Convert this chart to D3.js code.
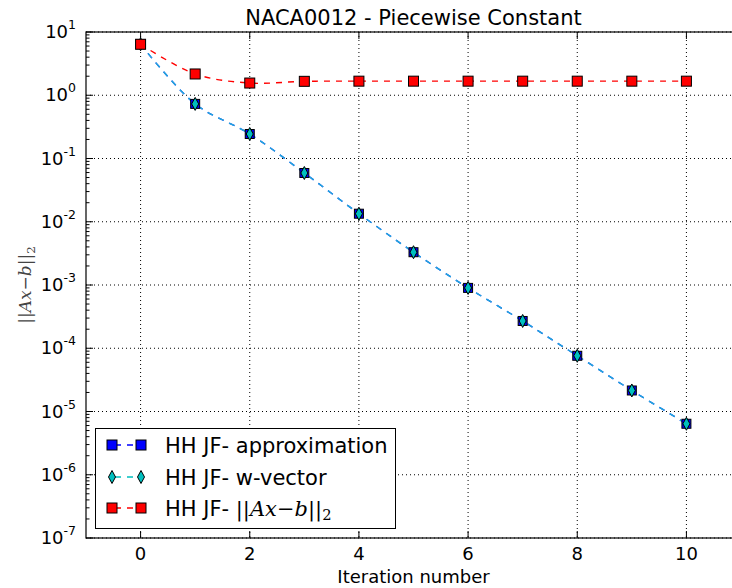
<!DOCTYPE html>
<html>
<head>
<meta charset="utf-8">
<script src="https://cdn.jsdelivr.net/npm/d3@7"></script>
<style>
  body { margin: 0; background: #fff; }
  svg { display: block; font-family: "DejaVu Sans", sans-serif; }
</style>
</head>
<body>
<svg id="chart" width="732" height="588"></svg>
<script>
// --- data ---
const iterations = [0, 1, 2, 3, 4, 5, 6, 7, 8, 9, 10];
const approxVals = [6.4, 0.73, 0.244, 0.059, 0.0134, 0.0033, 0.0009, 0.00027, 7.6e-5, 2.15e-5, 6.4e-6];
const wvecVals   = [6.4, 0.73, 0.244, 0.059, 0.0134, 0.0033, 0.0009, 0.00027, 7.6e-5, 2.15e-5, 6.4e-6];
const residVals  = [6.4, 2.17, 1.56, 1.66, 1.67, 1.67, 1.67, 1.67, 1.67, 1.67, 1.67];
const xTicks = [0, 2, 4, 6, 8, 10];
const yExps  = [1, 0, -1, -2, -3, -4, -5, -6, -7];
const legendLabels = ['HH JF- approximation', 'HH JF- w-vector', 'HH JF- '];

// --- layout ---
const pLeft = 86, pTop = 32, pRight = 741, pBottom = 538;
const svg = d3.select('#chart');

const x = d3.scaleLinear().domain([-1, 11]).range([pLeft, pRight]);
const y = d3.scaleLog().domain([1e-7, 1e1]).range([pBottom, pTop]);

// grid
const grid = svg.append('g').attr('stroke', '#000').attr('stroke-width', 1)
  .attr('stroke-dasharray', '1,3');
xTicks.forEach(t => grid.append('line')
  .attr('x1', x(t)).attr('x2', x(t)).attr('y1', pTop).attr('y2', pBottom));
yExps.forEach(e => grid.append('line')
  .attr('x1', pLeft).attr('x2', pRight).attr('y1', y(Math.pow(10, e))).attr('y2', y(Math.pow(10, e))));

// frame
svg.append('rect').attr('x', pLeft).attr('y', pTop)
  .attr('width', pRight - pLeft).attr('height', pBottom - pTop)
  .attr('fill', 'none').attr('stroke', '#000').attr('stroke-width', 1.2);

// ticks (inside, all sides, classic style)
const tk = svg.append('g').attr('stroke', '#000').attr('stroke-width', 1);
xTicks.forEach(t => {
  tk.append('line').attr('x1', x(t)).attr('x2', x(t)).attr('y1', pBottom).attr('y2', pBottom - 7);
  tk.append('line').attr('x1', x(t)).attr('x2', x(t)).attr('y1', pTop).attr('y2', pTop + 7);
});
yExps.forEach(e => {
  const v = Math.pow(10, e);
  tk.append('line').attr('x1', pLeft).attr('x2', pLeft + 7).attr('y1', y(v)).attr('y2', y(v));
  tk.append('line').attr('x1', pRight).attr('x2', pRight - 7).attr('y1', y(v)).attr('y2', y(v));
  if (e > -7) {
    for (let m = 2; m <= 9; m++) {
      const mv = m * Math.pow(10, e - 1);
      tk.append('line').attr('x1', pLeft).attr('x2', pLeft + 3.5).attr('y1', y(mv)).attr('y2', y(mv));
      tk.append('line').attr('x1', pRight).attr('x2', pRight - 3.5).attr('y1', y(mv)).attr('y2', y(mv));
    }
  }
});

// tick labels
svg.append('g').selectAll('text').data(xTicks).join('text')
  .attr('x', d => x(d)).attr('y', 560).attr('text-anchor', 'middle')
  .attr('font-size', 18).text(d => d);

const yl = svg.append('g').selectAll('text').data(yExps).join('text')
  .attr('x', 76).attr('y', d => y(Math.pow(10, d)) + 6).attr('text-anchor', 'end')
  .attr('font-size', 18);
yl.append('tspan').text('10');
yl.append('tspan').attr('dy', -9).attr('font-size', 12.5).text(d => d);

// axis labels + title
svg.append('text').attr('x', (pLeft + pRight) / 2).attr('y', 583).attr('text-anchor', 'middle')
  .attr('font-size', 18).text('Iteration number');

const ylab = svg.append('text')
  .attr('transform', `translate(31,${(pTop + pBottom) / 2}) rotate(-90)`)
  .attr('text-anchor', 'middle').attr('font-size', 17)
  .attr('font-family', '"DejaVu Serif", serif').attr('fill', '#444');
function mathNorm(sel) {
  sel.append('tspan').text('||');
  sel.append('tspan').attr('font-style', 'italic').text('Ax');
  sel.append('tspan').text('−');
  sel.append('tspan').attr('font-style', 'italic').text('b');
  sel.append('tspan').text('||');
  sel.append('tspan').attr('dy', 4).attr('font-size', '0.7em').text('2');
}
mathNorm(ylab);

svg.append('text').attr('x', (pLeft + pRight) / 2).attr('y', 25).attr('text-anchor', 'middle')
  .attr('font-size', 21).text('NACA0012 - Piecewise Constant');

// series
const line = d3.line().x((d, i) => x(iterations[i])).y(d => y(d)).curve(d3.curveCatmullRom);
const plot = svg.append('g');

const square = (g, cx, cy, s, fill) => g.append('rect')
  .attr('x', cx - s / 2).attr('y', cy - s / 2).attr('width', s).attr('height', s)
  .attr('fill', fill).attr('stroke', '#000').attr('stroke-width', 1);
const diamond = (g, cx, cy, fill) => g.append('path')
  .attr('d', `M${cx},${cy - 6.5}L${cx + 3.5},${cy}L${cx},${cy + 6.5}L${cx - 3.5},${cy}Z`)
  .attr('fill', fill).attr('stroke', '#000').attr('stroke-width', 1);

// approximation (blue)
plot.append('path').attr('d', line(approxVals)).attr('fill', 'none')
  .attr('stroke', '#0000ff').attr('stroke-width', 1.4).attr('stroke-dasharray', '6,6');
// w-vector (cyan)
plot.append('path').attr('d', line(wvecVals)).attr('fill', 'none')
  .attr('stroke', '#22bfd6').attr('stroke-opacity', 0.9).attr('stroke-width', 1.4).attr('stroke-dasharray', '6,6');
approxVals.forEach((v, i) => square(plot, x(iterations[i]), y(v), 9, '#0000ff'));
wvecVals.forEach((v, i) => diamond(plot, x(iterations[i]), y(v), '#00bfbf'));

// residual (red)
plot.append('path').attr('d', line(residVals)).attr('fill', 'none')
  .attr('stroke', '#ff0000').attr('stroke-width', 1.4).attr('stroke-dasharray', '6,6');
residVals.forEach((v, i) => square(plot, x(iterations[i]), y(v), 10, '#ff0000'));

// legend
const lg = svg.append('g');
lg.append('rect').attr('x', 95.5).attr('y', 428.5).attr('width', 300).attr('height', 100)
  .attr('fill', '#fff').attr('stroke', '#000').attr('stroke-width', 1);
const rowsY = [445, 477, 508];
const colors = ['#0000ff', '#00bfbf', '#ff0000'];
rowsY.forEach((ry, i) => {
  lg.append('line').attr('x1', 112).attr('x2', 141).attr('y1', ry).attr('y2', ry)
    .attr('stroke', colors[i]).attr('stroke-width', 1.4).attr('stroke-dasharray', '6,6')
    .attr('stroke-dashoffset', -3);
  [112, 141].forEach(cx => {
    if (i === 1) diamond(lg, cx, ry, colors[i]);
    else square(lg, cx, ry, 10, colors[i]);
  });
  const t = lg.append('text').attr('x', 165).attr('y', ry + 7.5).attr('font-size', 21)
    .text(legendLabels[i]);
  if (i === 2) {
    const m = t.append('tspan').attr('font-family', '"DejaVu Serif", serif');
    mathNorm(m);
  }
});
</script>
</body>
</html>
